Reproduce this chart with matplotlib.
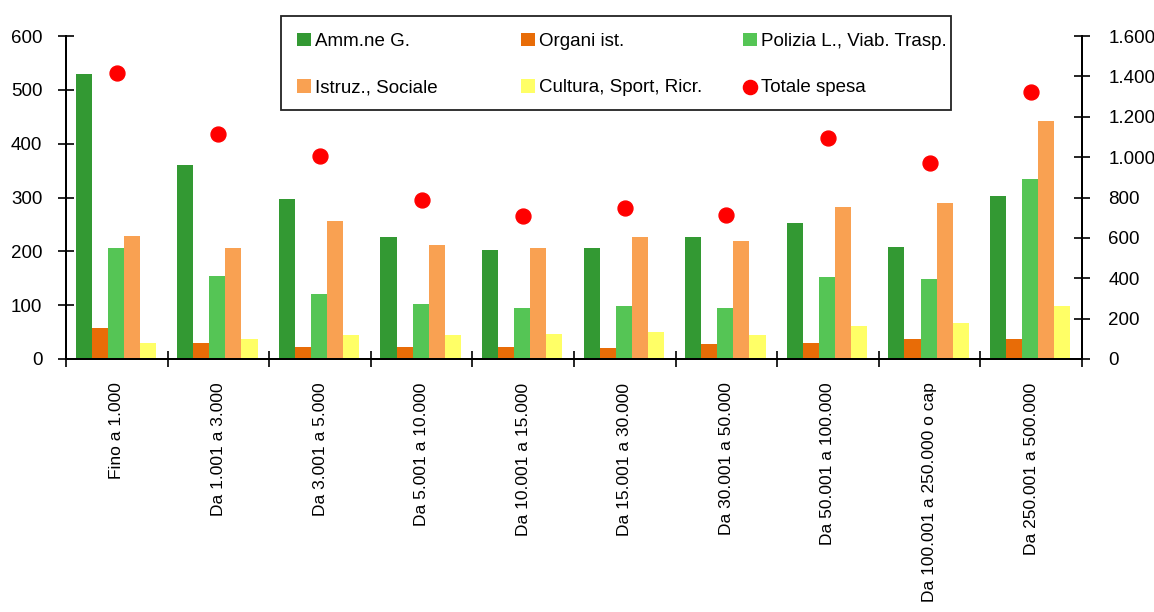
import matplotlib.pyplot as plt
import numpy as np
from matplotlib.ticker import FuncFormatter
from matplotlib.patches import Rectangle

plt.rcParams['font.family'] = ['Liberation Sans', 'DejaVu Sans']

categories = ['Fino a 1.000', 'Da 1.001 a 3.000', 'Da 3.001 a 5.000', 'Da 5.001 a 10.000',
              'Da 10.001 a 15.000', 'Da 15.001 a 30.000', 'Da 30.001 a 50.000',
              'Da 50.001 a 100.000', 'Da 100.001 a 250.000 o cap', 'Da 250.001 a 500.000']
amm = [530, 361, 297, 226, 203, 206, 226, 253, 209, 303]
organi = [57, 30, 23, 23, 23, 20, 27, 30, 37, 37]
polizia = [206, 155, 121, 102, 95, 98, 95, 152, 149, 334]
istruz = [229, 206, 256, 212, 206, 226, 219, 283, 290, 442]
cultura = [30, 37, 44, 44, 47, 50, 44, 61, 67, 98]
totale = [1415, 1113, 1007, 786, 710, 750, 715, 1095, 969, 1321]

series = [('Amm.ne G.', amm, '#339933'),
          ('Organi ist.', organi, '#e86c07'),
          ('Polizia L., Viab. Trasp.', polizia, '#55c555'),
          ('Istruz., Sociale', istruz, '#f9a152'),
          ('Cultura, Sport, Ricr.', cultura, '#ffff66')]

fig = plt.figure(figsize=(11.54, 6.12), dpi=100)
ax = fig.add_axes([0.0572, 0.4134, 0.8804, 0.5276])
ax2 = ax.twinx()

x = np.arange(len(categories)) + 0.5
w = 0.158
handles = {}
for i, (name, vals, col) in enumerate(series):
    handles[name] = ax.bar(x + (i - 2) * w - 0.01, vals, w, color=col, label=name, zorder=2)
dots = ax2.scatter(x, totale, s=115, color='#ff0000', zorder=3, label='Totale spesa')

ax.set_xlim(0, 10)
ax.set_ylim(0, 600)
ax2.set_ylim(0, 1600)
ax.set_yticks(range(0, 601, 100))
ax2.set_yticks(range(0, 1601, 200))
ax2.yaxis.set_major_formatter(FuncFormatter(lambda v, p: f'{int(v):,}'.replace(',', '.')))

ax.set_xticks(x)
ax.set_xticklabels(categories, rotation=90, fontsize=12.5)
ax.tick_params(axis='x', which='major', length=0, pad=17)
ax.set_xticks(np.arange(0, 11), minor=True)
ax.tick_params(axis='x', which='minor', direction='inout', length=12, width=1.2)
ax.tick_params(axis='y', direction='inout', length=12, width=1.2, labelsize=13.5, pad=11)
ax2.tick_params(axis='y', direction='inout', length=12, width=1.2, labelsize=13.5, pad=13)

for a in (ax, ax2):
    a.spines['top'].set_visible(False)
    for s in ('left', 'right', 'bottom'):
        a.spines[s].set_linewidth(1.4)

# legend: three equal-width columns inside one frame
fig.patches.append(Rectangle((281 / 1154, 1 - 110 / 612), 670 / 1154, 94 / 612,
                             transform=fig.transFigure, facecolor='white',
                             edgecolor='#222222', linewidth=1.3, zorder=5))
cols = [(['Amm.ne G.', 'Istruz., Sociale'], 297),
        (['Organi ist.', 'Cultura, Sport, Ricr.'], 521),
        (['Polizia L., Viab. Trasp.', 'Totale spesa'], 743)]
for names, px in cols:
    hs = [dots if n == 'Totale spesa' else handles[n] for n in names]
    leg = fig.legend(hs, names, loc='center left', bbox_to_anchor=(px / 1154, 1 - 64.5 / 612),
                     frameon=False, fontsize=13.5, borderpad=0, borderaxespad=0,
                     handlelength=0.75, handleheight=0.75, handletextpad=0.2,
                     labelspacing=1.55, markerscale=0.95)
    leg.set_zorder(6)

fig.savefig('out.png', dpi=100)
